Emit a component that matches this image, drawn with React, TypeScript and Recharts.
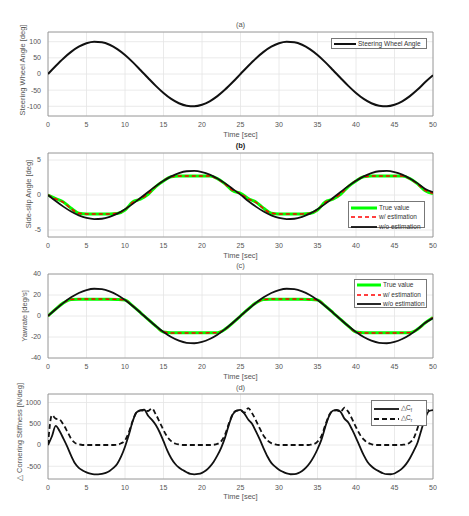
import { CartesianGrid, Line, LineChart, ReferenceArea, XAxis, YAxis } from "recharts";
import type { ReactNode } from "react";

// time bases (s)
const secs = [
  0, 1, 2, 3, 4, 5, 6, 7, 8, 9, 10, 11, 12, 13, 14, 15, 16, 17, 18, 19, 20, 21, 22, 23, 24, 25,
  26, 27, 28, 29, 30, 31, 32, 33, 34, 35, 36, 37, 38, 39, 40, 41, 42, 43, 44, 45, 46, 47, 48, 49, 50,
];
const halfSecs = [
  0, 0.5, 1, 1.5, 2, 2.5, 3, 3.5, 4, 4.5, 5, 5.5, 6, 6.5, 7, 7.5, 8, 8.5, 9, 9.5,
  10, 10.5, 11, 11.5, 12, 12.5, 13, 13.5, 14, 14.5, 15, 15.5, 16, 16.5, 17, 17.5, 18, 18.5, 19, 19.5,
  20, 20.5, 21, 21.5, 22, 22.5, 23, 23.5, 24, 24.5, 25, 25.5, 26, 26.5, 27, 27.5, 28, 28.5, 29, 29.5,
  30, 30.5, 31, 31.5, 32, 32.5, 33, 33.5, 34, 34.5, 35, 35.5, 36, 36.5, 37, 37.5, 38, 38.5, 39, 39.5,
  40, 40.5, 41, 41.5, 42, 42.5, 43, 43.5, 44, 44.5, 45, 45.5, 46, 46.5, 47, 47.5, 48, 48.5, 49, 49.5, 50,
];
const timeTicks = [0, 5, 10, 15, 20, 25, 30, 35, 40, 45, 50];

// (a) steering wheel angle [deg]
const steeringAngle = [
  0, 24.9, 48.2, 68.5, 84.4, 95.1, 99.8, 98.2, 90.5, 77.1, 58.8, 36.8, 12.5, -12.5, -36.8, -58.8, -77.1,
  -90.5, -98.2, -99.8, -95.1, -84.4, -68.5, -48.2, -24.9, 0,
  24.9, 48.2, 68.5, 84.4, 95.1, 99.8, 98.2, 90.5, 77.1, 58.8, 36.8, 12.5, -12.5, -36.8, -58.8, -77.1,
  -90.5, -98.2, -99.8, -95.1, -84.4, -68.5, -48.2, -24.9, -4,
];

// (b) side-slip angle [deg]
const slipTrue = [
  0, -0.5, -1.0, -1.9, -2.6, -2.7, -2.7, -2.7, -2.7, -2.65, -2.15, -1.0, -0.6, 0.1, 1.2, 2.0, 2.6,
  2.7, 2.7, 2.7, 2.7, 2.7, 2.35, 1.6, 0.6, 0.25,
  -0.5, -1.0, -1.9, -2.6, -2.7, -2.7, -2.7, -2.7, -2.65, -2.15, -1.0, -0.6, 0.1, 1.2, 2.0, 2.6,
  2.7, 2.7, 2.7, 2.7, 2.7, 2.35, 1.6, 0.6, 0.2,
];
const slipEst = [
  0, -0.55, -1.05, -1.95, -2.6, -2.7, -2.7, -2.7, -2.7, -2.6, -2.1, -1.05, -0.55, 0.15, 1.25, 2.05, 2.6,
  2.7, 2.7, 2.7, 2.7, 2.7, 2.3, 1.55, 0.65, 0.2,
  -0.55, -1.05, -1.95, -2.6, -2.7, -2.7, -2.7, -2.7, -2.6, -2.1, -1.05, -0.55, 0.15, 1.25, 2.05, 2.6,
  2.7, 2.7, 2.7, 2.7, 2.7, 2.3, 1.55, 0.65, 0.25,
];
const slipNoEst = [
  0, -0.86, -1.66, -2.36, -2.91, -3.28, -3.44, -3.39, -3.12, -2.66, -2.03, -1.27, -0.43, 0.43, 1.27,
  2.03, 2.66, 3.12, 3.39, 3.44, 3.28, 2.91, 2.36, 1.66, 0.86, 0.05,
  -0.86, -1.66, -2.36, -2.91, -3.28, -3.44, -3.39, -3.12, -2.66, -2.03, -1.27, -0.43, 0.43, 1.27,
  2.03, 2.66, 3.12, 3.39, 3.44, 3.28, 2.91, 2.36, 1.66, 0.86, 0.4,
];

// (c) yaw rate [deg/s]
const yawTrue = [
  0, 6.5, 12.5, 15.8, 16, 16, 16, 16, 16, 15.8, 15.2, 9.6, 3.3, -3.3, -9.6, -15.3, -16, -16, -16, -16,
  -16, -16, -15.9, -12.5, -6.5, 0,
  6.5, 12.5, 15.8, 16, 16, 16, 16, 16, 15.8, 15.2, 9.6, 3.3, -3.3, -9.6, -15.3, -16, -16, -16, -16,
  -16, -16, -15.9, -12.5, -6.5, -1.5,
];
const yawEst = [
  0, 6.5, 12.5, 15.7, 16.1, 16.1, 16.1, 16.1, 16, 15.8, 15.1, 9.6, 3.3, -3.3, -9.6, -15.3, -16.1, -16.1,
  -16.1, -16.1, -16.1, -16, -15.8, -12.5, -6.5, 0,
  6.5, 12.5, 15.7, 16.1, 16.1, 16.1, 16.1, 16, 15.8, 15.1, 9.6, 3.3, -3.3, -9.6, -15.3, -16.1, -16.1,
  -16.1, -16.1, -16.1, -16, -15.8, -12.5, -6.5, -1.5,
];
const yawNoEst = [
  0, 6.47, 12.53, 17.81, 21.94, 24.73, 25.95, 25.53, 23.53, 20.04, 15.28, 9.57, 3.26, -3.26, -9.57,
  -15.28, -20.04, -23.53, -25.53, -25.95, -24.73, -21.94, -17.81, -12.53, -6.47, 0,
  6.47, 12.53, 17.81, 21.94, 24.73, 25.95, 25.53, 23.53, 20.04, 15.28, 9.57, 3.26, -3.26, -9.57,
  -15.28, -20.04, -23.53, -25.53, -25.95, -24.73, -21.94, -17.81, -12.53, -6.47, -2,
];

// (d) cornering stiffness deviation [N/deg]
const dCf = [
  0, 200, 450, 330, 150, -40, -250, -430, -540, -600, -645, -675, -690, -690, -680, -655, -610, -540,
  -440, -270, -40, 240, 560, 770, 815, 830, 690, 590, 470, 300, 90, -130, -310, -440, -530, -590,
  -640, -680, -690, -682, -655, -600, -515, -400, -245, -60, 180, 480, 720, 810, 825, 740, 600, 500,
  320, 130, -80, -270, -420, -510, -580, -630, -670, -688, -685, -662, -610, -535, -425, -280, -100,
  120, 420, 680, 805, 825, 780, 620, 530, 360, 170, -40, -240, -400, -500, -570, -620, -665, -687,
  -688, -670, -620, -550, -450, -310, -140, 60, 360, 640, 800, 820,
];
const dCr = [
  0, 700, 620, 600, 480, 320, 150, 50, 15, 0, 0, 0, 0, 0, 0, 0, 0, 0, 5, 40, 110, 300, 570, 770,
  815, 805, 800, 860, 720, 540, 350, 190, 90, 35, 12, 0, 0, 0, 0, 0, 0, 0, 0, 5, 25, 90, 250, 510,
  730, 810, 810, 760, 870, 750, 580, 390, 220, 110, 45, 15, 0, 0, 0, 0, 0, 0, 0, 0, 5, 20, 80, 210,
  460, 700, 805, 815, 780, 880, 780, 610, 420, 250, 130, 55, 20, 0, 0, 0, 0, 0, 0, 0, 5, 15, 60, 160,
  400, 660, 800, 820,
];

const W = 469;
const PLOT_LEFT = 48;
const PLOT_RIGHT = 433;
const FONT = "'Liberation Sans', Arial, sans-serif";
const tickStyle = { fontSize: 7, fill: "#555", fontFamily: FONT };

const dataA = secs.map((t, i) => ({ t, swa: steeringAngle[i] }));
const dataB = secs.map((t, i) => ({ t, tv: slipTrue[i], est: slipEst[i], noest: slipNoEst[i] }));
const dataC = secs.map((t, i) => ({ t, tv: yawTrue[i], est: yawEst[i], noest: yawNoEst[i] }));
const dataD = halfSecs.map((t, i) => ({ t, cf: dCf[i], cr: dCr[i] }));

function Panel(props: {
  top: number;
  bottom: number;
  data: any[];
  domain: [number, number];
  yTicks: number[];
  children: ReactNode;
}) {
  const mt = 6;
  const xh = 20;
  const h = props.bottom - props.top + mt + xh;
  return (
    <div style={{ position: "absolute", left: 0, top: props.top - mt }}>
      <LineChart
        width={W}
        height={h}
        data={props.data}
        margin={{ top: mt, right: W - PLOT_RIGHT, bottom: 0, left: 0 }}
      >
        <CartesianGrid stroke="#e4e4e4" strokeWidth={0.8} />
        <XAxis
          dataKey="t"
          type="number"
          domain={[0, 50]}
          ticks={timeTicks}
          interval={0}
          height={xh}
          tickLine={false}
          axisLine={false}
          tickSize={5}
          tickMargin={1}
          tick={tickStyle}
          allowDataOverflow
        />
        <YAxis
          type="number"
          domain={props.domain}
          ticks={props.yTicks}
          interval={0}
          width={PLOT_LEFT}
          tickLine={false}
          axisLine={false}
          tickSize={5}
          tickMargin={2}
          tick={tickStyle}
          allowDataOverflow
        />
        <ReferenceArea
          x1={0}
          x2={50}
          y1={props.domain[0]}
          y2={props.domain[1]}
          fill="none"
          stroke="#8c8c8c"
          strokeWidth={0.8}
          ifOverflow="visible"
        />
        {props.children}
      </LineChart>
    </div>
  );
}

function Text(props: { x: number; y: number; size?: number; bold?: boolean; rotate?: boolean; children: ReactNode }) {
  return (
    <div
      style={{
        position: "absolute",
        left: props.x,
        top: props.y,
        transform: `translate(-50%, -50%)${props.rotate ? " rotate(-90deg)" : ""}`,
        whiteSpace: "nowrap",
        fontFamily: FONT,
        fontSize: props.size ?? 7.5,
        fontWeight: props.bold ? 700 : 400,
        color: props.bold ? "#222" : "#555",
        lineHeight: 1,
      }}
    >
      {props.children}
    </div>
  );
}

type LegendRow = { label: ReactNode; color: string; width: number; dash?: string };

function LegendBox(props: {
  x: number;
  y: number;
  w: number;
  h: number;
  rowYs: number[];
  lineW: number;
  rows: LegendRow[];
}) {
  return (
    <div
      style={{
        position: "absolute",
        left: props.x,
        top: props.y,
        width: props.w,
        height: props.h,
        border: "0.8px solid #777",
        background: "#fff",
        boxSizing: "border-box",
        fontFamily: FONT,
      }}
    >
      {props.rows.map((r, i) => (
        <div key={i}>
          <svg
            width={props.lineW}
            height={6}
            style={{ position: "absolute", left: 2, top: props.rowYs[i] - 3 }}
          >
            <line x1={0} x2={props.lineW} y1={3} y2={3} stroke={r.color} strokeWidth={r.width} strokeDasharray={r.dash} />
          </svg>
          <span
            style={{
              position: "absolute",
              left: props.lineW + 4,
              top: props.rowYs[i],
              transform: "translateY(-50%)",
              fontSize: 6.5,
              color: "#333",
              whiteSpace: "nowrap",
              lineHeight: 1,
            }}
          >
            {r.label}
          </span>
        </div>
      ))}
    </div>
  );
}

const CX = (PLOT_LEFT + PLOT_RIGHT) / 2;

export default function App() {
  return (
    <div style={{ position: "absolute", left: 0, top: 0, width: W, height: 516, background: "#fff" }}>
      {/* (a) */}
      <Panel top={32} bottom={116} data={dataA} domain={[-130, 130]} yTicks={[-100, -50, 0, 50, 100]}>
        <Line dataKey="swa" type="monotone" stroke="#111" strokeWidth={2} dot={false} isAnimationActive={false} />
      </Panel>
      <Text x={CX} y={25}>(a)</Text>
      <Text x={CX} y={135}>Time [sec]</Text>
      <Text x={23} y={70} rotate>Steering Wheel Angle [deg]</Text>
      <LegendBox
        x={331}
        y={37.5}
        w={96}
        h={11}
        rowYs={[5]}
        lineW={22}
        rows={[{ label: "Steering Wheel Angle", color: "#111", width: 2 }]}
      />

      {/* (b) */}
      <Panel top={153} bottom={237} data={dataB} domain={[-6, 6]} yTicks={[-5, 0, 5]}>
        <Line dataKey="tv" type="monotone" stroke="#00ff00" strokeWidth={3} dot={false} isAnimationActive={false} />
        <Line dataKey="est" type="monotone" stroke="#ff0000" strokeWidth={1.5} strokeDasharray="4 3" dot={false} isAnimationActive={false} />
        <Line dataKey="noest" type="monotone" stroke="#111" strokeWidth={1.8} dot={false} isAnimationActive={false} />
      </Panel>
      <Text x={CX} y={146} bold>(b)</Text>
      <Text x={CX} y={256}>Time [sec]</Text>
      <Text x={29} y={194} rotate>Side-slip Angle [deg]</Text>
      <LegendBox
        x={348}
        y={201}
        w={77}
        h={27}
        rowYs={[6, 15.3, 24.5]}
        lineW={26}
        rows={[
          { label: "True value", color: "#00ff00", width: 3 },
          { label: "w/ estimation", color: "#ff0000", width: 1.5, dash: "4 3" },
          { label: "w/o estimation", color: "#111", width: 1.8 },
        ]}
      />

      {/* (c) */}
      <Panel top={274} bottom={358} data={dataC} domain={[-40, 40]} yTicks={[-40, -20, 0, 20, 40]}>
        <Line dataKey="tv" type="monotone" stroke="#00ff00" strokeWidth={3} dot={false} isAnimationActive={false} />
        <Line dataKey="est" type="monotone" stroke="#ff0000" strokeWidth={1.5} strokeDasharray="4 3" dot={false} isAnimationActive={false} />
        <Line dataKey="noest" type="monotone" stroke="#111" strokeWidth={1.8} dot={false} isAnimationActive={false} />
      </Panel>
      <Text x={CX} y={266}>(c)</Text>
      <Text x={CX} y={377}>Time [sec]</Text>
      <Text x={25} y={316} rotate>Yawrate [deg/s]</Text>
      <LegendBox
        x={354}
        y={279}
        w={73}
        h={29}
        rowYs={[5.3, 14.7, 24.2]}
        lineW={24}
        rows={[
          { label: "True value", color: "#00ff00", width: 3 },
          { label: "w/ estimation", color: "#ff0000", width: 1.5, dash: "4 3" },
          { label: "w/o estimation", color: "#111", width: 1.8 },
        ]}
      />

      {/* (d) */}
      <Panel top={394} bottom={479} data={dataD} domain={[-800, 1200]} yTicks={[-500, 0, 500, 1000]}>
        <Line dataKey="cf" type="monotone" stroke="#111" strokeWidth={1.8} dot={false} isAnimationActive={false} />
        <Line dataKey="cr" type="monotone" stroke="#111" strokeWidth={1.8} strokeDasharray="5 3" dot={false} isAnimationActive={false} />
      </Panel>
      <Text x={CX} y={388}>(d)</Text>
      <Text x={CX} y={497}>Time [sec]</Text>
      <Text x={20} y={432} rotate>△ Cornering Stiffness [N/deg]</Text>
      <LegendBox
        x={371}
        y={400}
        w={56}
        h={26}
        rowYs={[7.5, 18]}
        lineW={25}
        rows={[
          { label: <>△C<sub style={{ fontSize: 4.5 }}>f</sub></>, color: "#111", width: 1.8 },
          { label: <>△C<sub style={{ fontSize: 4.5 }}>r</sub></>, color: "#111", width: 1.8, dash: "5 3" },
        ]}
      />
    </div>
  );
}
